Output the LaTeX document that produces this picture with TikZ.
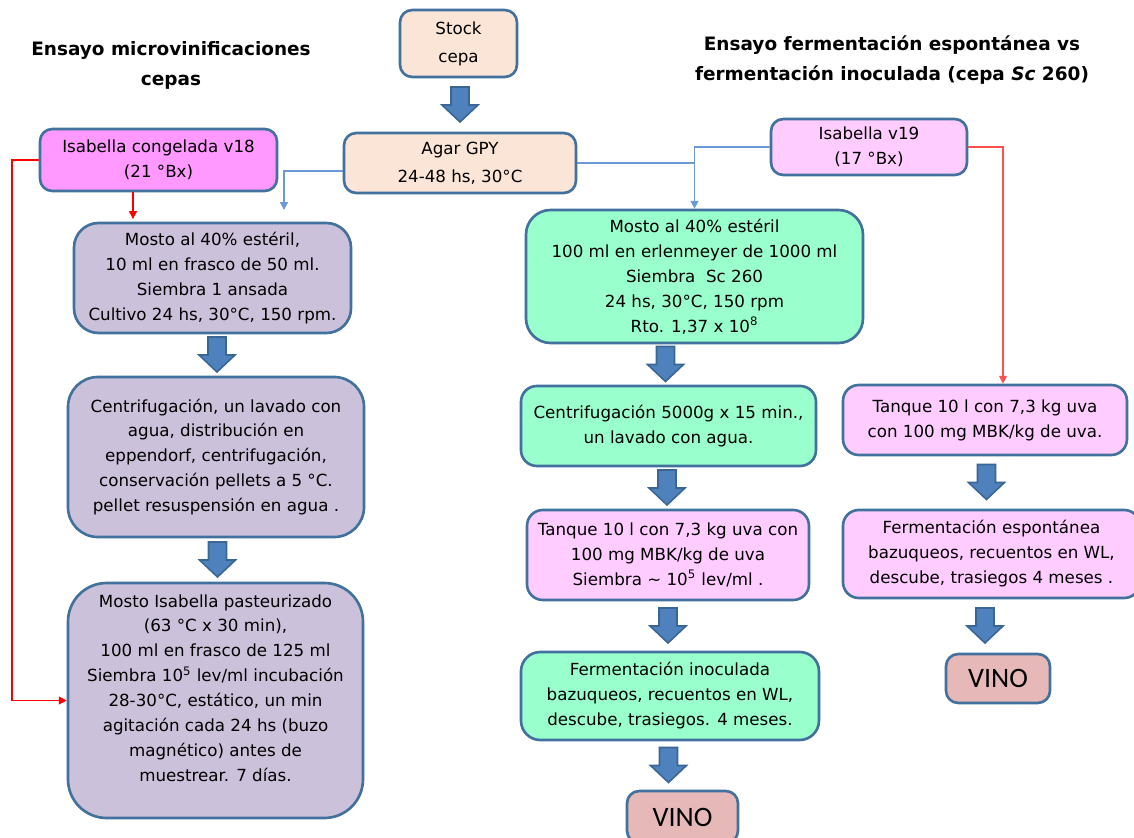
\documentclass[tikz,border=0pt]{standalone}
\usepackage{fontspec}
\setmainfont{DejaVu Sans}
\newfontfamily\vinofont{Carlito}
\usetikzlibrary{arrows.meta,positioning,calc}

\definecolor{borde}{HTML}{41719C}
\definecolor{azulflecha}{HTML}{4F81BD}
\definecolor{bordeflecha}{HTML}{3A6693}
\definecolor{durazno}{HTML}{FBE5D6}
\definecolor{fucsia}{HTML}{FF99FF}
\definecolor{rosa}{HTML}{FFCCFF}
\definecolor{lila}{HTML}{CCC1DA}
\definecolor{verde}{HTML}{99FFCC}
\definecolor{vinocol}{HTML}{E6B9B8}
\definecolor{celeste}{HTML}{6A9BD6}
\definecolor{rojizo}{HTML}{FF5050}

\tikzset{
  caja/.style={draw=borde, line width=1.5pt, rounded corners=7pt, align=center, inner sep=0pt},
  dim/.style 2 args={minimum width=#1*0.02cm, minimum height=#2*0.02cm},
  bloque/.style={draw=bordeflecha, fill=azulflecha, line width=0.9pt, line join=miter},
  linea/.style={draw=celeste, line width=0.7pt, -{Triangle[width=4.5pt,length=4.5pt]}},
  roja/.style={draw=red, line width=0.7pt, -{Triangle[width=4.5pt,length=4.5pt]}},
  titulo/.style={font=\fontsize{10.5}{17}\selectfont\bfseries, align=center},
  vino/.style={caja, fill=vinocol, font=\vinofont\fontsize{16}{19}\selectfont},
}

% flecha gruesa entre dos cajas
\newcommand{\flecha}[3][0]{%
  \draw[bloque] ($(#3.north)!0.5!(#3.north |- #2.south)+(#1,0)$)
    ++(-9,-18) -- ++(18,0) -- ++(0,18) -- ++(9,0) -- ++(-18,17) -- ++(-18,-17) -- ++(9,0) -- cycle;}

\begin{document}
\begin{tikzpicture}[x=0.02cm, y=-0.02cm, font=\fontsize{9.5}{14.2}\selectfont]
  \path[use as bounding box, fill=white] (0,0) rectangle (1134,838);

  % Titulos
  \node[titulo] (tit1) at (171,65) {Ensayo microvinificaciones\\cepas};
  \node[titulo] (tit2) at (892,60) {Ensayo fermentación espontánea vs\\fermentación inoculada (cepa \textit{Sc} 260)};

  % Cepa
  \node[caja, fill=durazno, dim={117}{67}, font=\fontsize{9.5}{15.9}\selectfont] (stock) at (458.5,43.5) {Stock\\cepa};
  \node[caja, fill=durazno, dim={232}{60}, font=\fontsize{9.5}{15.9}\selectfont] (agar) at (460,163) {Agar GPY\\24-48 hs, 30°C};

  % Microvinificaciones
  \node[caja, fill=fucsia, dim={237}{62}] (cong) at (158.5,160) {Isabella congelada v18\\(21 °Bx)};
  \node[caja, fill=lila, rounded corners=14pt, dim={277}{110}] (l1) at (212.5,278)
    {Mosto al 40\% estéril,\\10 ml en frasco de 50 ml.\\Siembra 1 ansada\\Cultivo 24 hs, 30°C, 150 rpm.};
  \node[caja, fill=lila, rounded corners=17pt, dim={296}{160}] (l2) at (216,457)
    {Centrifugación, un lavado con\\agua, distribución en\\eppendorf, centrifugación,\\conservación pellets a 5 °C.\\pellet resuspensión en agua .};
  \node[caja, fill=lila, rounded corners=22pt, dim={295}{235}] (l3) at (215.5,700.5)
    {Mosto Isabella pasteurizado\\(63 °C x 30 min),\\100 ml en frasco de 125 ml\\Siembra 10\textsuperscript{5} lev/ml incubación\\28-30°C, estático, un min\\agitación cada 24 hs (buzo\\magnético) antes de\\muestrear. 7 días.\\\mbox{}};

  % Fermentacion inoculada
  \node[caja, fill=verde, rounded corners=14pt, dim={337}{133}] (m1) at (694.5,276.5)
    {Mosto al 40\% estéril\\100 ml en erlenmeyer de 1000 ml\\Siembra\ \ Sc 260\\24 hs, 30°C, 150 rpm\\Rto. 1,37 x 10\textsuperscript{8}};
  \node[caja, fill=verde, rounded corners=9pt, dim={295}{80}] (m2) at (668.5,426)
    {Centrifugación 5000g x 15 min.,\\un lavado con agua.};
  \node[caja, fill=rosa, rounded corners=9pt, dim={282}{90}] (m3) at (668,555)
    {Tanque 10 l con 7,3 kg uva con\\100 mg MBK/kg de uva\\Siembra \textasciitilde{} 10\textsuperscript{5} lev/ml .};
  \node[caja, fill=verde, rounded corners=11pt, dim={298}{88}] (m4) at (670,696)
    {Fermentación inoculada\\bazuqueos, recuentos en WL,\\descube, trasiegos. 4 meses.};
  \node[vino, dim={111}{52}] (vino1) at (682.5,817) {VINO};

  % Fermentacion espontanea
  \node[caja, fill=rosa, dim={196}{56}] (v19) at (869,147) {Isabella v19\\(17 °Bx)};
  \node[caja, fill=rosa, rounded corners=9pt, dim={284}{70}] (r1) at (985,420)
    {Tanque 10 l con 7,3 kg uva\\con 100 mg MBK/kg de uva.};
  \node[caja, fill=rosa, rounded corners=9pt, dim={297}{88}] (r2) at (991.5,554)
    {Fermentación espontánea\\bazuqueos, recuentos en WL,\\descube, trasiegos 4 meses .};
  \node[vino, dim={104}{49}] (vino2) at (998,678.5) {VINO};

  % Flechas gruesas
  \flecha{stock}{agar}
  \flecha[1]{l1}{l2}
  \flecha[2]{l2}{l3}
  \flecha[-3]{m1}{m2}
  \flecha[-1]{m2}{m3}
  \flecha[-2]{m3}{m4}
  \flecha[-14]{m4}{vino1}
  \flecha[-5]{r1}{r2}
  \flecha[-13]{r2}{vino2}

  % Conectores finos
  \coordinate (fa) at (284,210);
  \draw[linea] ([yshift=-4.5pt]agar.west) -| (fa);
  \draw[linea, -] (agar.east) -- (agar.east -| m1.north);
  \draw[linea] (v19.west) -| (m1.north);

  \coordinate (codo) at (12,400);
  \coordinate (rc) at (133,200);
  \draw[roja] (cong.west) -- (cong.west -| codo) |- (l3.west);
  \draw[roja, shorten >=1.5pt] (rc |- cong.south) -- (rc |- l1.north);

  \coordinate (cd) at (1003,300);
  \draw[roja, draw=rojizo] (v19.east) -| (cd |- r1.north);
\end{tikzpicture}
\end{document}
